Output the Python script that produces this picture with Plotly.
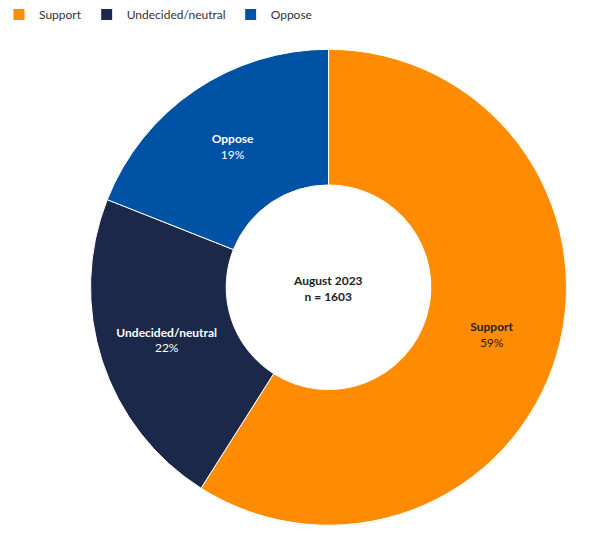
import plotly.graph_objects as go

labels = ["Support", "Undecided/neutral", "Oppose"]
values = [59, 22, 19]
colors = ["#FF8C00", "#1B2849", "#0052A5"]
text_colors = ["#222222", "#FFFFFF", "#FFFFFF"]
center_text = "<b>August 2023<br>n = 1603</b>"

FONT = "Lato"

fig = go.Figure(go.Pie(
    labels=labels,
    values=values,
    hole=0.43,
    sort=False,
    direction="clockwise",
    rotation=0,
    marker=dict(colors=colors, line=dict(color="#FFFFFF", width=1)),
    texttemplate="<b>%{label}</b><br>%{value}%",
    textposition="inside",
    insidetextorientation="horizontal",
    insidetextfont=dict(color=text_colors, size=12, family=FONT),
    domain=dict(x=[0.1347, 0.9337], y=[0.035, 0.923]),
    hoverinfo="label+percent",
))

fig.update_layout(
    width=600, height=536,
    margin=dict(l=0, r=0, t=0, b=0, autoexpand=False),
    paper_bgcolor="white",
    font=dict(family=FONT, size=12, color="#333333"),
    showlegend=True,
    legend=dict(orientation="h", x=-0.015, y=1.015, xanchor="left", yanchor="top",
                itemwidth=30,
                font=dict(size=12, color="#333333", family=FONT), traceorder="normal"),
    annotations=[dict(text=center_text, x=0.534, y=0.4776, xref="paper", yref="paper",
                      showarrow=False, font=dict(size=12, color="#222222", family=FONT))],
)

fig.write_html("out.html")
